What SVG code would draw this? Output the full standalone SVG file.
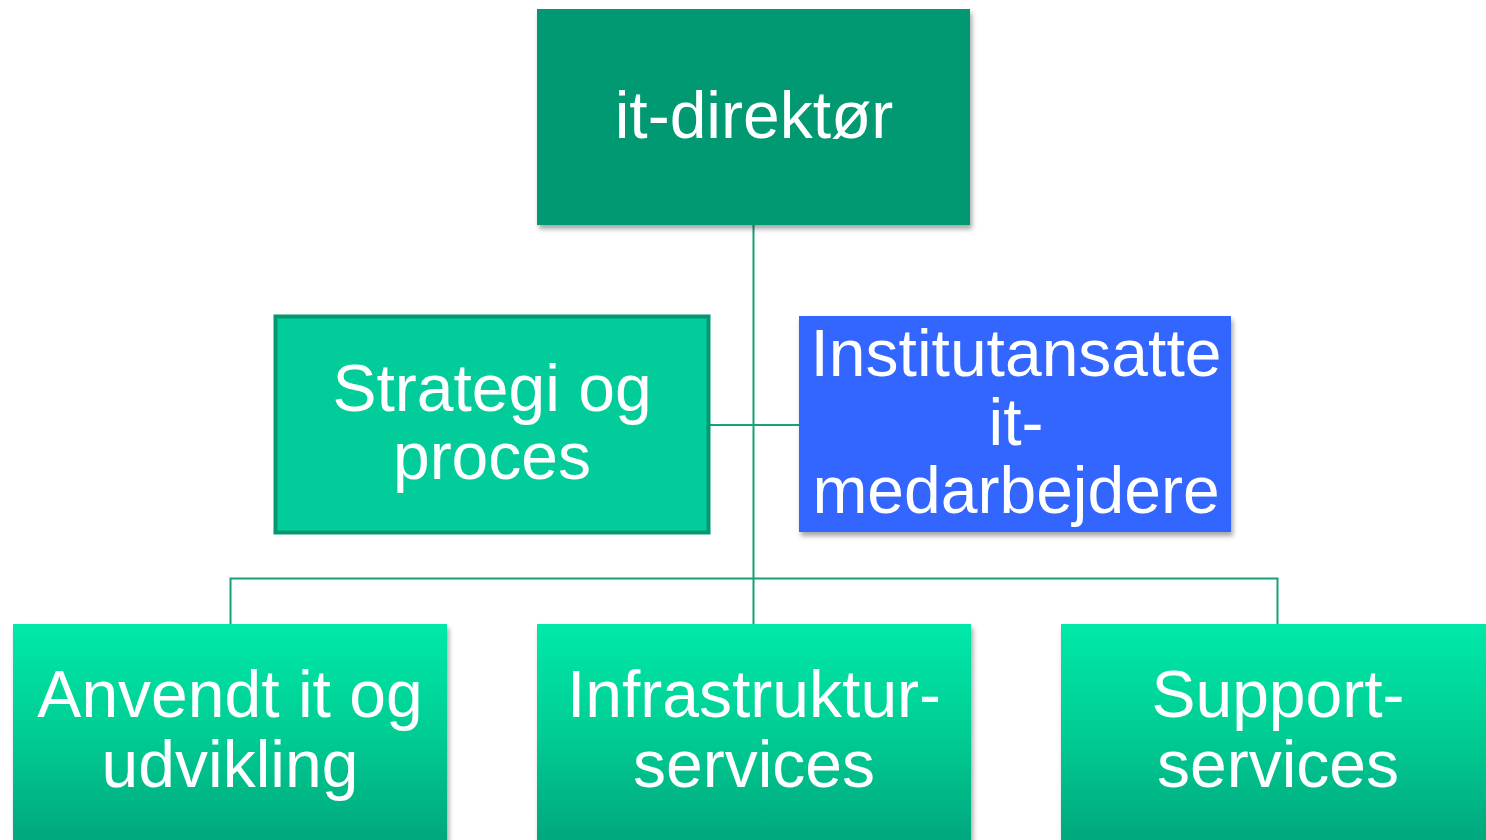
<svg xmlns="http://www.w3.org/2000/svg" width="1486" height="840" viewBox="0 0 1486 840">
<defs>
<linearGradient id="g" x1="0" y1="0" x2="0" y2="1">
<stop offset="0" stop-color="#00E9A8"/>
<stop offset="0.5" stop-color="#00CD94"/>
<stop offset="1" stop-color="#02A87D"/>
</linearGradient>
<filter id="sh" x="-10%" y="-10%" width="120%" height="130%">
<feDropShadow dx="2" dy="4" stdDeviation="2.5" flood-color="#000" flood-opacity="0.35"/>
</filter>
<style>
.t{font-family:"Liberation Sans",Arial,sans-serif;font-size:66px;fill:#fff;text-anchor:middle}
.c{stroke:#17A07A;stroke-width:2;fill:none}
</style>
</defs>
<rect width="1486" height="840" fill="#fff"/>
<g id="connectors">
<line class="c" x1="753.5" y1="225" x2="753.5" y2="624"/>
<line class="c" x1="710" y1="425" x2="799" y2="425"/>
<polyline class="c" points="230.5,624 230.5,578.5 1277.5,578.5 1277.5,624"/>
</g>
<g id="it-direktor">
<rect x="537" y="9" width="433" height="216" fill="#029972" filter="url(#sh)"/>
<text class="t" x="754" y="138">it-direktør</text>
</g>
<g id="strategi">
<rect x="275.5" y="316.5" width="433" height="216" fill="#02CC9A" stroke="#029972" stroke-width="4"/>
<text class="t" x="492" y="411">Strategi og</text>
<text class="t" x="492" y="479">proces</text>
</g>
<g id="institutansatte">
<rect x="799" y="316" width="432" height="216" fill="#3366FF" filter="url(#sh)"/>
<text class="t" x="1016" y="376">Institutansatte</text>
<text class="t" x="1016" y="445">it-</text>
<text class="t" x="1016" y="513">medarbejdere</text>
</g>
<g id="anvendt">
<rect x="13" y="624" width="434" height="216" fill="url(#g)" filter="url(#sh)"/>
<text class="t" x="230" y="717">Anvendt it og</text>
<text class="t" x="230" y="787">udvikling</text>
</g>
<g id="infrastruktur">
<rect x="537" y="624" width="434" height="216" fill="url(#g)" filter="url(#sh)"/>
<text class="t" x="754" y="717">Infrastruktur-</text>
<text class="t" x="754" y="787">services</text>
</g>
<g id="support">
<rect x="1061" y="624" width="434" height="216" fill="url(#g)" filter="url(#sh)"/>
<text class="t" x="1278" y="717">Support-</text>
<text class="t" x="1278" y="787">services</text>
</g>
</svg>
